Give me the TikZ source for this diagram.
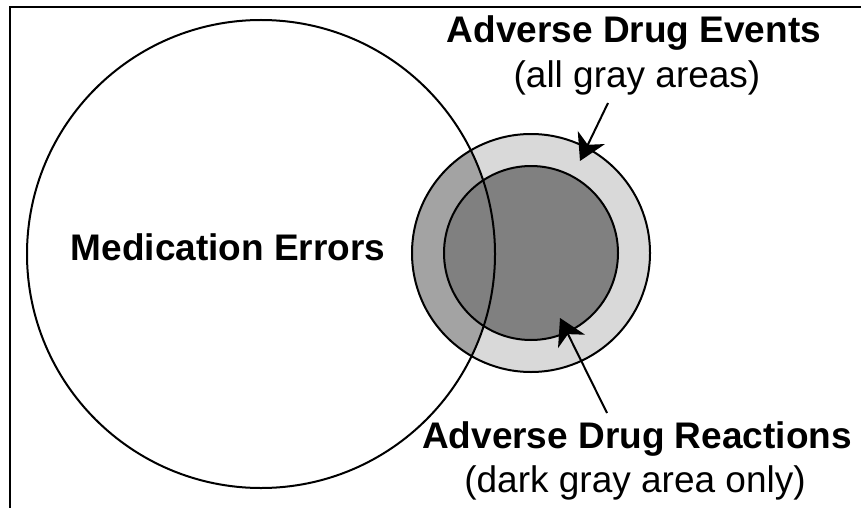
\documentclass[tikz,border=0pt]{standalone}
\usepackage{fontspec}
\setmainfont{Liberation Sans}
\usetikzlibrary{arrows.meta}
\definecolor{lightring}{HTML}{D9D9D9}
\definecolor{midring}{HTML}{A3A3A3}
\definecolor{darkcore}{HTML}{808080}
\begin{document}
\begin{tikzpicture}[x=1pt,y=-1pt,
  lbl/.style={font=\fontsize{37}{44}\selectfont\bfseries, anchor=base, inner sep=0pt},
  sublbl/.style={font=\fontsize{37}{44}\selectfont, anchor=base, inner sep=0pt},
  outline/.style={line width=2pt, draw=black},
  pointer/.style={line width=2pt, -{Stealth[length=26pt,width=30pt,inset=8pt]}}]
\useasboundingbox (0,0) rectangle (861,508);
\fill[white] (0,0) rectangle (861,508);
\draw[line width=1.5pt] (10,508) -- (10,7) -- (861,7);
\coordinate (bc) at (261,254);
\coordinate (sc) at (531,253);
\fill[lightring] (sc) circle (119pt);
\begin{scope}
  \clip (bc) circle (234pt);
  \fill[midring] (sc) circle (119pt);
\end{scope}
\fill[darkcore] (sc) circle (87pt);
\draw[outline] (bc) circle (234pt);
\draw[outline] (sc) circle (119pt);
\draw[outline] (sc) circle (87pt);
\node[lbl] (ade) at (634,43) {Adverse Drug Events};
\node[sublbl] (adesub) at (637,88) {(all gray areas)};
\node[lbl] (me) at (228,260) {Medication Errors};
\node[lbl] (adr) at (637,448) {Adverse Drug Reactions};
\node[sublbl] (adrsub) at (635,492) {(dark gray area only)};
\coordinate (ta) at (608,103);
\coordinate (tb) at (580,161);
\coordinate (ba) at (607,413);
\coordinate (bb) at (560,318);
\draw[pointer] (ta) -- (tb);
\draw[pointer] (ba) -- (bb);
\end{tikzpicture}
\end{document}
